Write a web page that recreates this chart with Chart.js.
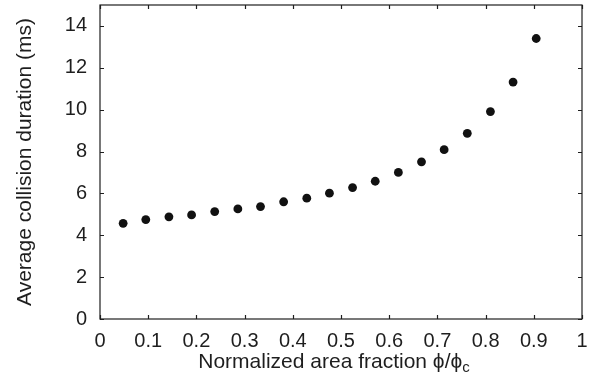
<!DOCTYPE html>
<html>
<head>
<meta charset="utf-8">
<script src="https://cdn.jsdelivr.net/npm/chart.js@4.4.0/dist/chart.umd.min.js"></script>
<style>
  html, body { margin: 0; padding: 0; background: #fff; }
  canvas { display: block; }
</style>
</head>
<body>
<canvas id="grafica" width="601" height="390"></canvas>
<script>
// datos
const fraccion = [0.048, 0.095, 0.143, 0.190, 0.238, 0.286, 0.333, 0.381, 0.429, 0.476,
                  0.524, 0.571, 0.619, 0.667, 0.714, 0.762, 0.810, 0.857, 0.905];
const duracion = [4.57, 4.75, 4.88, 4.97, 5.13, 5.26, 5.37, 5.60, 5.77, 6.01,
                  6.28, 6.58, 7.00, 7.51, 8.09, 8.87, 9.91, 11.32, 13.40];
const ticksX = [0, 0.1, 0.2, 0.3, 0.4, 0.5, 0.6, 0.7, 0.8, 0.9, 1];
const ticksY = [0, 2, 4, 6, 8, 10, 12, 14];

const tinta = '#1e1e1e';
const fuente = 'Liberation Sans, Arial, Helvetica, sans-serif';

// marco con marcas hacia dentro en los cuatro lados
const marco = {
    id: 'marco',
    afterDraw(chart) {
        const { ctx, chartArea: a, scales } = chart;
        const largo = 4;
        ctx.save();
        ctx.strokeStyle = tinta;
        ctx.lineWidth = 1.2;
        ctx.strokeRect(a.left, a.top, a.right - a.left, a.bottom - a.top);
        ctx.beginPath();
        ticksX.forEach(v => {
            const px = Math.round(scales.x.getPixelForValue(v)) + 0.5;
            ctx.moveTo(px, a.bottom); ctx.lineTo(px, a.bottom - largo);
            ctx.moveTo(px, a.top); ctx.lineTo(px, a.top + largo);
        });
        ticksY.forEach(v => {
            const py = Math.round(scales.y.getPixelForValue(v)) + 0.5;
            ctx.moveTo(a.left, py); ctx.lineTo(a.left + largo, py);
            ctx.moveTo(a.right, py); ctx.lineTo(a.right - largo, py);
        });
        ctx.stroke();

        // titulo del eje x con subindice
        const texto = 'Normalized area fraction \u03D5/\u03D5';
        ctx.fillStyle = tinta;
        ctx.font = '21px ' + fuente;
        const w1 = ctx.measureText(texto).width;
        ctx.font = '15px ' + fuente;
        const w2 = ctx.measureText('c').width;
        const x0 = (a.left + a.right) / 2 - 7 - (w1 + w2) / 2;
        const base = 368;
        ctx.textBaseline = 'alphabetic';
        ctx.textAlign = 'left';
        ctx.font = '21px ' + fuente;
        ctx.fillText(texto, x0, base);
        ctx.font = '15px ' + fuente;
        ctx.fillText('c', x0 + w1, base + 4);
        ctx.restore();
    }
};

new Chart(document.getElementById('grafica'), {
    type: 'scatter',
    data: {
        datasets: [{
            label: 'Average collision duration',
            data: fraccion.map((x, i) => ({ x: x, y: duracion[i] })),
            backgroundColor: '#111',
            borderWidth: 0,
            pointRadius: 4.4,
            pointHoverRadius: 4.4
        }]
    },
    options: {
        responsive: false,
        animation: false,
        layout: { padding: { left: 0, right: 19, top: 5, bottom: 0 } },
        plugins: { legend: { display: false }, tooltip: { enabled: false } },
        scales: {
            x: {
                type: 'linear',
                min: 0, max: 1,
                afterBuildTicks: s => { s.ticks = ticksX.map(v => ({ value: v })); },
                afterFit: s => { s.height = 71; s.paddingLeft = 0; s.paddingRight = 0; },
                grid: { display: false, drawTicks: false },
                border: { display: false },
                ticks: {
                    padding: 10,
                    color: tinta,
                    font: { size: 20, family: fuente },
                    maxRotation: 0,
                    callback: v => String(v)
                },
                title: { display: false }
            },
            y: {
                type: 'linear',
                min: 0, max: 15,
                afterBuildTicks: s => { s.ticks = ticksY.map(v => ({ value: v })); },
                afterFit: s => { s.width = 100; s.paddingTop = 0; s.paddingBottom = 0; },
                grid: { display: false, drawTicks: false },
                border: { display: false },
                ticks: {
                    padding: 13,
                    color: tinta,
                    font: { size: 20, family: fuente },
                    callback: v => String(v)
                },
                title: {
                    display: true,
                    text: 'Average collision duration (ms)',
                    color: tinta,
                    font: { size: 21, family: fuente },
                    padding: { top: 13, bottom: 0 }
                }
            }
        }
    },
    plugins: [marco]
});
</script>
</body>
</html>
